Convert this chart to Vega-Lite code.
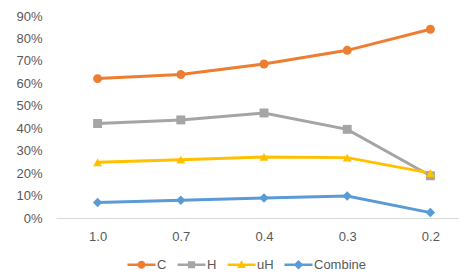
{
  "$schema": "https://vega.github.io/schema/vega-lite/v6.json",
  "width": 416,
  "height": 202,
  "autosize": {"type": "none"},
  "padding": {"left": 56, "top": 16, "right": 0, "bottom": 57},
  "background": "white",
  "config": {
    "view": {"stroke": null},
    "font": "Liberation Sans",
    "axis": {"labelFont": "Liberation Sans", "labelFontSize": 13, "labelColor": "#595959", "grid": false, "ticks": false, "title": null},
    "legend": {"labelFont": "Liberation Sans", "labelFontSize": 13, "labelColor": "#595959"}
  },
  "data": {"values": [
    {"x": "1.0", "s": "C", "v": 0.621}, {"x": "0.7", "s": "C", "v": 0.639}, {"x": "0.4", "s": "C", "v": 0.686}, {"x": "0.3", "s": "C", "v": 0.747}, {"x": "0.2", "s": "C", "v": 0.841},
    {"x": "1.0", "s": "H", "v": 0.421}, {"x": "0.7", "s": "H", "v": 0.437}, {"x": "0.4", "s": "H", "v": 0.468}, {"x": "0.3", "s": "H", "v": 0.395}, {"x": "0.2", "s": "H", "v": 0.188},
    {"x": "1.0", "s": "uH", "v": 0.248}, {"x": "0.7", "s": "uH", "v": 0.260}, {"x": "0.4", "s": "uH", "v": 0.272}, {"x": "0.3", "s": "uH", "v": 0.269}, {"x": "0.2", "s": "uH", "v": 0.200},
    {"x": "1.0", "s": "Combine", "v": 0.069}, {"x": "0.7", "s": "Combine", "v": 0.079}, {"x": "0.4", "s": "Combine", "v": 0.089}, {"x": "0.3", "s": "Combine", "v": 0.098}, {"x": "0.2", "s": "Combine", "v": 0.024}
  ]},
  "encoding": {
    "x": {"field": "x", "type": "ordinal", "sort": ["1.0", "0.7", "0.4", "0.3", "0.2"], "scale": {"type": "point", "padding": 0.5},
          "axis": {"labelAngle": 0, "domainColor": "#d9d9d9", "domainWidth": 1, "labelPadding": 12}},
    "y": {"field": "v", "type": "quantitative", "scale": {"domain": [0, 0.9], "nice": false},
          "axis": {"format": ".0%", "values": [0, 0.1, 0.2, 0.3, 0.4, 0.5, 0.6, 0.7, 0.8, 0.9], "domain": false, "labelPadding": 14}},
    "color": {"field": "s", "type": "nominal", "sort": ["C", "H", "uH", "Combine"],
              "scale": {"domain": ["C", "H", "uH", "Combine"], "range": ["#ED7D31", "#A5A5A5", "#FFC000", "#5B9BD5"]},
              "legend": {"title": null, "orient": "none", "direction": "horizontal", "legendX": 79, "legendY": 242,
                         "symbolSize": 64, "labelOffset": 9, "columnPadding": 10, "symbolOpacity": 1,
                         "encode": {"symbols": {"update": {"strokeWidth": {"value": 0}, "fillOpacity": {"value": 1},
                           "fill": {"scale": "color", "field": "value"},
                           "shape": {"signal": "(datum.value === 'C' ? 'M1,0A1,1,0,1,1,-1,0A1,1,0,1,1,1,0Z' : datum.value === 'H' ? 'M-0.9,-0.9H0.9V0.9H-0.9Z' : datum.value === 'uH' ? 'M0,-1.1L1.1,0.8H-1.1Z' : 'M0,-1.2L1.2,0L0,1.2L-1.2,0Z') + ' M-3.5,-0.3H3.5V0.3H-3.5Z'"}}}}}}
  },
  "layer": [
    {"mark": {"type": "line", "strokeWidth": 3}},
    {"transform": [{"filter": "datum.s === 'C'"}], "mark": {"type": "point", "shape": "circle", "filled": true, "opacity": 1, "size": 80}},
    {"transform": [{"filter": "datum.s === 'H'"}], "mark": {"type": "point", "shape": "square", "filled": true, "opacity": 1, "size": 80}},
    {"transform": [{"filter": "datum.s === 'uH'"}], "mark": {"type": "point", "shape": "triangle-up", "filled": true, "opacity": 1, "size": 80}},
    {"transform": [{"filter": "datum.s === 'Combine'"}], "mark": {"type": "point", "shape": "diamond", "filled": true, "opacity": 1, "size": 90}}
  ]
}
